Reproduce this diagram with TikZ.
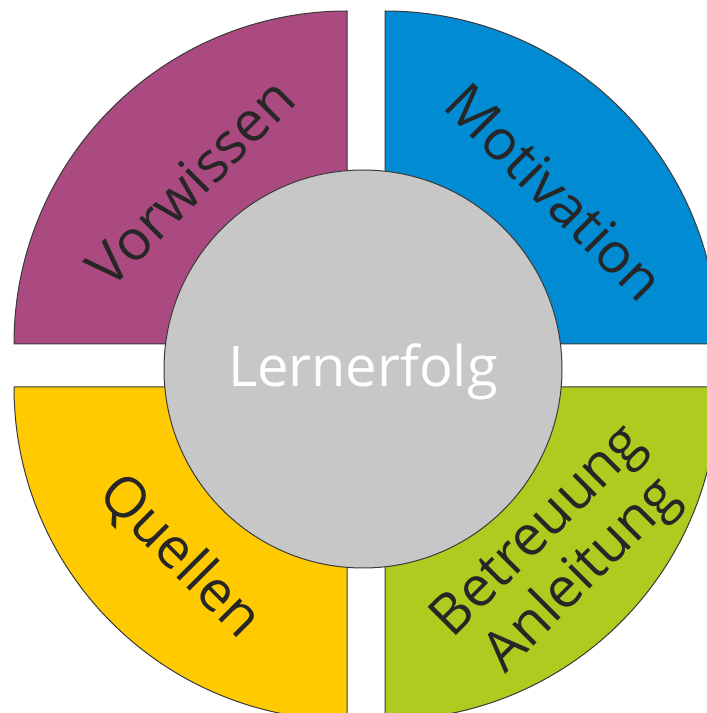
\documentclass[tikz,border=0pt]{standalone}
\usepackage{fontspec}
\setmainfont{Open Sans}
\definecolor{qpurple}{HTML}{AA4A80}
\definecolor{qblue}{HTML}{008BD3}
\definecolor{qyellow}{HTML}{FFCB00}
\definecolor{qgreen}{HTML}{AFCB1F}
\definecolor{cgray}{HTML}{C6C7C6}
\definecolor{txt}{HTML}{262626}
\definecolor{edge}{HTML}{3A3A3A}
\tikzset{
  quad/.style={draw=edge, line width=1pt, line join=round},
  qlabel/.style={text=txt, inner sep=0pt, font=\fontsize{56}{64}\selectfont},
}
\begin{document}
\begin{tikzpicture}[x=1pt,y=1pt]
\useasboundingbox (0,0) rectangle (707,713);
\clip (0,0) rectangle (707,713);
\fill[white] (0,0) rectangle (707,713);
% quadrants
\path[quad, fill=qpurple] (347,369) -- ++(-333,0) arc[start angle=180,end angle=90,radius=333] -- cycle;
\path[quad, fill=qblue] (385,369) -- ++(0,333) arc[start angle=90,end angle=0,radius=333] -- cycle;
\path[quad, fill=qyellow] (347,326) -- ++(-333,0) arc[start angle=180,end angle=270,radius=333] -- cycle;
\path[quad, fill=qgreen] (385,326) -- ++(333,0) arc[start angle=0,end angle=-90,radius=333] -- cycle;
% centre
\node[circle, draw=edge, line width=1pt, fill=cgray, minimum size=398pt, inner sep=0pt] (core) at (363,344) {};
\node[text=white, inner sep=0pt, anchor=base, font=\fontsize{56}{60}\selectfont] (lern) at (363,326) {Lernerfolg};
% labels
\node[qlabel, rotate=45] (vor) at (190,531) {Vorwissen};
\node[qlabel, rotate=-45] (mot) at (555,521) {Motivation};
\node[qlabel, rotate=-45] (que) at (180,156) {Quellen};
\node[qlabel, rotate=45, align=center, font=\fontsize{56}{62}\selectfont] (bet) at (562,158) {Betreuung\\Anleitung};
\end{tikzpicture}
\end{document}
